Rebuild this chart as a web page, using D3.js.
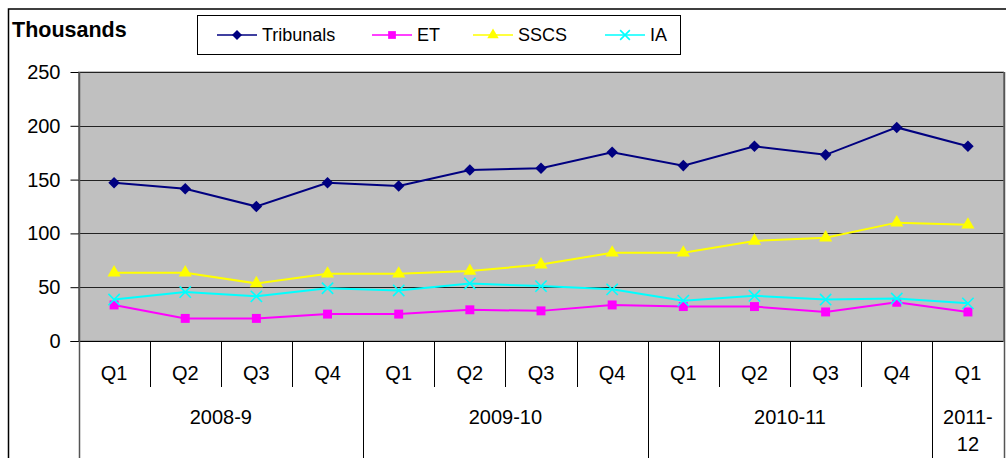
<!DOCTYPE html>
<html>
<head>
<meta charset="utf-8">
<script src="https://cdn.jsdelivr.net/npm/d3@7"></script>
<style>
  body { margin: 0; background: #fff; }
  text { font-family: "Liberation Sans", Arial, sans-serif; fill: #000; }
</style>
</head>
<body>
<div id="chart"></div>
<script>
var quarters = ["Q1", "Q2", "Q3", "Q4", "Q1", "Q2", "Q3", "Q4", "Q1", "Q2", "Q3", "Q4", "Q1"];
var years = ["2008-9", "2009-10", "2010-11", "2011-12"];
var yearQuarters = [4, 4, 4, 1];
var yTicks = [0, 50, 100, 150, 200, 250];

var tribunals = [147, 141.5, 125, 147, 144, 159, 160.5, 175.5, 163, 181, 173, 198.5, 181];
var et = [33.5, 21, 21, 25, 25, 29, 28, 33.5, 32, 32, 27, 36, 27];
var sscs = [63.5, 63.5, 53.5, 62.5, 62.5, 65, 71, 82, 82, 93, 96, 110, 108];
var ia = [38.5, 45.5, 41.5, 49, 47, 53.5, 51, 48, 37.5, 42, 38.5, 39.5, 35];

var series = [
    {name: "Tribunals", values: tribunals, color: "#000080", symbol: "diamond"},
    {name: "ET", values: et, color: "#ff00ff", symbol: "square"},
    {name: "SSCS", values: sscs, color: "#ffff00", symbol: "triangle"},
    {name: "IA", values: ia, color: "#00ffff", symbol: "cross"}
];

var width = 1006, height = 458;
var plotL = 78.5, plotR = 1003.5, plotT = 72, plotB = 341;

var svg = d3.select("#chart").append("svg")
    .attr("width", width)
    .attr("height", height);

var idx = d3.range(quarters.length);
var x = d3.scaleBand()
    .domain(idx)
    .range([plotL, plotR]);
var y = d3.scaleLinear()
    .domain([0, 250])
    .range([plotB, plotT]);

// outer frame
svg.append("rect")
    .attr("x", 8.5).attr("y", 9)
    .attr("width", 1010).attr("height", 470)
    .attr("fill", "none")
    .attr("stroke", "#000")
    .attr("stroke-width", 1.5);

svg.append("text")
    .attr("x", 12).attr("y", 37)
    .attr("font-size", "21.5px")
    .attr("font-weight", "bold")
    .text("Thousands");

// plot area
svg.append("rect")
    .attr("x", plotL).attr("y", plotT)
    .attr("width", plotR - plotL).attr("height", plotB - plotT)
    .attr("fill", "#c0c0c0")
    .attr("stroke", "#808080");

svg.selectAll(".grid")
    .data(yTicks.slice(1))
    .enter()
        .append("line").attr("class", "grid")
        .attr("x1", plotL).attr("x2", plotR)
        .attr("y1", function(d) { return Math.round(y(d)) + 0.5; })
        .attr("y2", function(d) { return Math.round(y(d)) + 0.5; })
        .attr("stroke", "#222")
        .attr("stroke-width", 1);

var yAxis = svg.append("g")
    .attr("transform", "translate(" + plotL + ",0)")
    .call(d3.axisLeft(y).tickValues(yTicks).tickSize(8).tickPadding(10));
yAxis.select(".domain").remove();
yAxis.selectAll("line").attr("stroke", "#000");
yAxis.selectAll("text")
    .attr("font-size", "20px")
    .attr("font-family", "Liberation Sans, Arial, sans-serif");

// category axis
svg.append("line")
    .attr("x1", plotL - 8).attr("x2", plotR)
    .attr("y1", plotB + 0.5).attr("y2", plotB + 0.5)
    .attr("stroke", "#000");

var yearStarts = [0];
yearQuarters.forEach(function(n, i) { yearStarts.push(yearStarts[i] + n); });

var bounds = d3.range(quarters.length + 1);
svg.selectAll(".qdiv")
    .data(bounds)
    .enter()
        .append("line").attr("class", "qdiv")
        .attr("x1", function(d) { return Math.round(plotL + d * x.bandwidth()) + 0.5; })
        .attr("x2", function(d) { return Math.round(plotL + d * x.bandwidth()) + 0.5; })
        .attr("y1", function(d) { return (d == 0 || d == quarters.length) ? plotT : plotB; })
        .attr("y2", function(d) { return yearStarts.indexOf(d) >= 0 ? height + 2 : 387; })
        .attr("stroke", function(d) { return (d == 0 || d == quarters.length) ? "#555" : "#000"; })
        .attr("stroke-width", function(d) { return (d == 0 || d == quarters.length) ? 1.5 : 1; });

svg.selectAll(".qlab")
    .data(quarters)
    .enter()
        .append("text").attr("class", "qlab")
        .attr("x", function(d, i) { return x(i) + x.bandwidth() / 2; })
        .attr("y", 380)
        .attr("text-anchor", "middle")
        .attr("font-size", "20px")
        .text(function(d) { return d; });

svg.selectAll(".ylab")
    .data(years)
    .enter()
        .append("text").attr("class", "ylab")
        .attr("x", function(d, i) {
            return plotL + (yearStarts[i] + yearQuarters[i] / 2) * x.bandwidth();
        })
        .attr("y", 424)
        .attr("text-anchor", "middle")
        .attr("font-size", "20px")
        .each(function(d, i) {
            var t = d3.select(this);
            if (yearQuarters[i] > 1) { t.text(d); return; }
            var parts = d.split("-");
            t.append("tspan").attr("x", t.attr("x")).text(parts[0] + "-");
            t.append("tspan").attr("x", t.attr("x")).attr("dy", 27).text(parts[1]);
        });

// lines and markers
var linefun = d3.line()
    .x(function(d, i) { return x(i) + x.bandwidth() / 2; })
    .y(function(d) { return y(d); });

var symbolSize = {diamond: 85, square: 80, triangle: 75, cross: 85};

function marker(sel, s, k) {
    var size = symbolSize[s.symbol] * k;
    if (s.symbol == "cross") {
        sel.append("path")
            .attr("d", d3.symbol().type(d3.symbolX).size(size)())
            .attr("fill", "none")
            .attr("stroke", s.color)
            .attr("stroke-width", 1.6);
    } else {
        var t = {diamond: d3.symbolDiamond2, square: d3.symbolSquare, triangle: d3.symbolTriangle}[s.symbol];
        sel.append("path")
            .attr("d", d3.symbol().type(t).size(size)())
            .attr("fill", s.color);
    }
}

series.forEach(function(s) {
    svg.append("path").attr("class", "serieline")
        .attr("d", linefun(s.values))
        .attr("fill", "none")
        .attr("stroke", s.color)
        .attr("stroke-width", 2);
    svg.selectAll(".pt-" + s.name)
        .data(s.values)
        .enter()
            .append("g").attr("class", "pt-" + s.name)
            .attr("transform", function(d, i) {
                return "translate(" + (x(i) + x.bandwidth() / 2) + "," + y(d) + ")";
            })
            .each(function() { marker(d3.select(this), s, 1); });
});

// legend
svg.append("rect")
    .attr("x", 197.5).attr("y", 15.5)
    .attr("width", 483).attr("height", 39)
    .attr("fill", "#fff")
    .attr("stroke", "#000");

var legendX = [217, 372, 473, 605];
series.forEach(function(s, i) {
    var g = svg.append("g").attr("transform", "translate(" + legendX[i] + ",35)");
    g.append("line")
        .attr("x1", 0).attr("x2", 40)
        .attr("stroke", s.color)
        .attr("stroke-width", 1.5);
    var m = g.append("g").attr("transform", "translate(20,0)");
    marker(m, s, 0.75);
    g.append("text")
        .attr("x", 45).attr("y", 6)
        .attr("font-size", "18px")
        .text(s.name);
});
</script>
</body>
</html>
